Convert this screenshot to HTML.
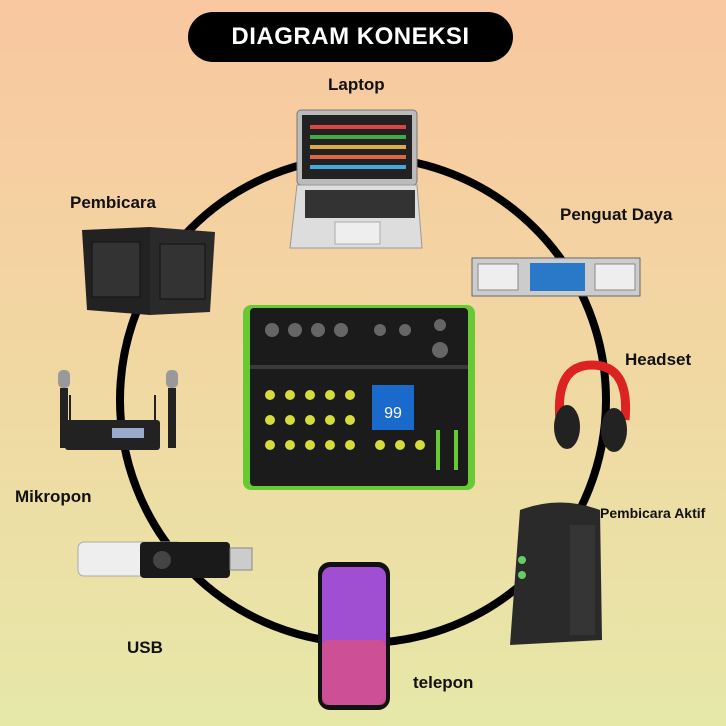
<!DOCTYPE html>
<html><head><meta charset="utf-8"><style>
html,body{margin:0;padding:0}
body{width:726px;height:726px;overflow:hidden;position:relative;font-family:"Liberation Sans",sans-serif;
background:linear-gradient(180deg,#f9c7a0 0%,#f2d6a2 45%,#e6e8a8 100%)}
.lbl{position:absolute;font-weight:bold;color:#111;font-size:17px;white-space:nowrap}
.pill{position:absolute;left:188px;top:12px;width:325px;height:50px;background:#000;border-radius:25px;color:#fff;font-weight:bold;font-size:24px;text-align:center;line-height:50px;letter-spacing:.5px}
svg{position:absolute;left:0;top:0}
</style></head><body>
<svg width="726" height="726" viewBox="0 0 726 726">
<circle cx="363" cy="400" r="243" fill="none" stroke="#000" stroke-width="8"/>
<!-- laptop -->
<rect x="297" y="110" width="120" height="75" rx="4" fill="#bbb" stroke="#777"/>
<rect x="302" y="115" width="110" height="64" fill="#222"/>
<rect x="310" y="125" width="96" height="4" fill="#d44"/><rect x="310" y="135" width="96" height="4" fill="#4a4"/><rect x="310" y="145" width="96" height="4" fill="#da4"/><rect x="310" y="155" width="96" height="4" fill="#d64"/><rect x="310" y="165" width="96" height="4" fill="#4ad"/>
<polygon points="297,185 417,185 422,248 290,248" fill="#ddd" stroke="#999"/>
<rect x="305" y="190" width="110" height="28" fill="#333"/>
<rect x="335" y="222" width="45" height="22" fill="#eee" stroke="#aaa"/>
<!-- speakers -->
<polygon points="82,230 150,227 150,315 87,310" fill="#222"/>
<polygon points="150,227 215,232 210,312 150,315" fill="#2a2a2a"/>
<rect x="92" y="242" width="48" height="55" fill="#333" stroke="#111"/>
<rect x="160" y="244" width="45" height="55" fill="#333" stroke="#111"/>
<!-- amp -->
<rect x="472" y="258" width="168" height="38" fill="#ccc" stroke="#666"/>
<rect x="478" y="264" width="40" height="26" fill="#eee" stroke="#888"/>
<rect x="530" y="263" width="55" height="28" fill="#2a79c9"/>
<rect x="595" y="264" width="40" height="26" fill="#eee" stroke="#888"/>
<!-- mixer -->
<rect x="243" y="305" width="232" height="185" rx="8" fill="#67c933"/>
<rect x="250" y="308" width="218" height="178" rx="4" fill="#1b1b1b"/>
<rect x="250" y="365" width="218" height="4" fill="#3a3a3a"/>
<rect x="372" y="385" width="42" height="45" fill="#1a6acc"/>
<text x="393" y="418" font-size="16" fill="#fff" text-anchor="middle" font-family="Liberation Sans">99</text>
<g fill="#d6dc3a">
<circle cx="270" cy="395" r="5"/><circle cx="290" cy="395" r="5"/><circle cx="310" cy="395" r="5"/><circle cx="330" cy="395" r="5"/><circle cx="350" cy="395" r="5"/>
<circle cx="270" cy="420" r="5"/><circle cx="290" cy="420" r="5"/><circle cx="310" cy="420" r="5"/><circle cx="330" cy="420" r="5"/><circle cx="350" cy="420" r="5"/>
<circle cx="270" cy="445" r="5"/><circle cx="290" cy="445" r="5"/><circle cx="310" cy="445" r="5"/><circle cx="330" cy="445" r="5"/><circle cx="350" cy="445" r="5"/>
<circle cx="380" cy="445" r="5"/><circle cx="400" cy="445" r="5"/><circle cx="420" cy="445" r="5"/>
</g>
<g fill="#666"><circle cx="272" cy="330" r="7"/><circle cx="295" cy="330" r="7"/><circle cx="318" cy="330" r="7"/><circle cx="341" cy="330" r="7"/><circle cx="380" cy="330" r="6"/><circle cx="405" cy="330" r="6"/><circle cx="440" cy="350" r="8"/><circle cx="440" cy="325" r="6"/></g>
<rect x="436" y="430" width="4" height="40" fill="#67c933"/><rect x="454" y="430" width="4" height="40" fill="#67c933"/>
<!-- headset -->
<path d="M560 420 Q555 365 592 365 Q630 365 625 420" fill="none" stroke="#d22" stroke-width="9"/>
<ellipse cx="567" cy="427" rx="13" ry="22" fill="#222"/>
<ellipse cx="614" cy="430" rx="13" ry="22" fill="#222"/>
<!-- mic receiver -->
<rect x="65" y="420" width="95" height="30" rx="3" fill="#222"/>
<rect x="112" y="428" width="32" height="10" fill="#9ac"/>
<line x1="70" y1="420" x2="70" y2="395" stroke="#222" stroke-width="2"/><line x1="155" y1="420" x2="155" y2="395" stroke="#222" stroke-width="2"/>
<rect x="58" y="370" width="12" height="18" rx="5" fill="#999"/><rect x="60" y="388" width="8" height="60" fill="#222"/>
<rect x="166" y="370" width="12" height="18" rx="5" fill="#999"/><rect x="168" y="388" width="8" height="60" fill="#222"/>
<!-- usb -->
<rect x="78" y="542" width="105" height="34" rx="6" fill="#eee" stroke="#aaa"/>
<rect x="140" y="542" width="90" height="36" rx="4" fill="#1a1a1a"/>
<circle cx="162" cy="560" r="9" fill="#444"/>
<rect x="230" y="548" width="22" height="22" fill="#ccc" stroke="#888"/>
<!-- phone -->
<rect x="318" y="562" width="72" height="148" rx="12" fill="#111"/>
<rect x="322" y="567" width="64" height="138" rx="9" fill="#a14fd2"/>
<rect x="322" y="640" width="64" height="65" rx="6" fill="#d84f86" opacity=".8"/>
<!-- active speaker -->
<path d="M520 510 Q560 495 600 510 L602 640 L510 645 Z" fill="#2a2a2a"/>
<rect x="570" y="525" width="25" height="110" fill="#353535"/>
<circle cx="522" cy="560" r="4" fill="#6c6"/><circle cx="522" cy="575" r="4" fill="#6c6"/>
</svg>
<div class="pill">DIAGRAM KONEKSI</div>
<div class="lbl" style="left:328px;top:75px">Laptop</div>
<div class="lbl" style="left:70px;top:193px">Pembicara</div>
<div class="lbl" style="left:560px;top:205px">Penguat Daya</div>
<div class="lbl" style="left:625px;top:350px">Headset</div>
<div class="lbl" style="left:15px;top:487px">Mikropon</div>
<div class="lbl" style="left:600px;top:505px;font-size:14px">Pembicara Aktif</div>
<div class="lbl" style="left:127px;top:638px">USB</div>
<div class="lbl" style="left:413px;top:673px">telepon</div>
</body></html>
